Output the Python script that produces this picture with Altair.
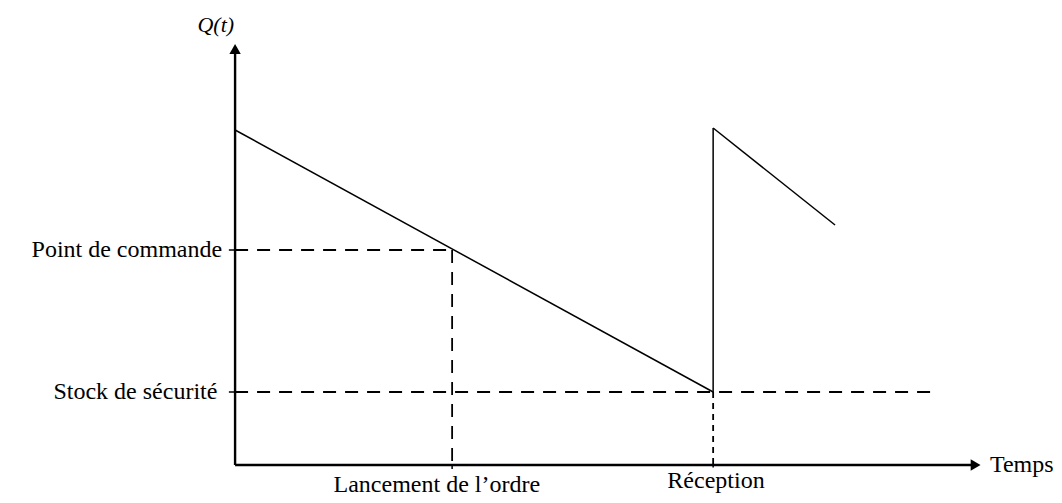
import altair as alt
import pandas as pd

# Time units (t) and stock units (Q)
T_LANCEMENT = 4.54
T_RECEPTION = 10.0
T_END = 12.55
T_SS_END = 14.64
T_AXIS_END = 15.69

Q_SS = 7.3
Q_PC = 21.5
Q_START = 33.5
Q_PEAK = 33.7
Q_END = 24.0
Q_AXIS_END = 42.6

XDOM = [-4.75, 17.13]
YDOM = [-3.0, 45.7]
FONT = "Liberation Serif"
FS = 24

x_sc = alt.Scale(domain=XDOM, nice=False, zero=False)
y_sc = alt.Scale(domain=YDOM, nice=False, zero=False)

def seg_df(rows):
    return pd.DataFrame(rows, columns=["x", "y", "x2", "y2"])

axes = seg_df([
    [0, 0, T_AXIS_END - 0.2, 0],
    [0, 0, 0, Q_AXIS_END - 1.0],
])
stock = seg_df([
    [0, Q_START, T_RECEPTION, Q_SS],
    [T_RECEPTION, Q_SS, T_RECEPTION, Q_PEAK],
    [T_RECEPTION, Q_PEAK, T_END, Q_END],
])
dashed = seg_df([
    [0, Q_PC, T_LANCEMENT, Q_PC],
    [T_LANCEMENT, Q_PC, T_LANCEMENT, 0],
    [0, Q_SS, T_SS_END, Q_SS],
])
dotted = seg_df([
    [T_RECEPTION, Q_SS, T_RECEPTION, 0],
])
ticks = seg_df([
    [-0.13, Q_PC, 0, Q_PC],
    [-0.13, Q_SS, 0, Q_SS],
    [T_LANCEMENT, 0, T_LANCEMENT, -0.4],
    [T_RECEPTION, 0, T_RECEPTION, -0.25],
])

def rules(df, width, dash=None):
    kw = dict(color="black", strokeWidth=width)
    if dash:
        kw["strokeDash"] = dash
    return alt.Chart(df).mark_rule(**kw).encode(
        x=alt.X("x:Q", scale=x_sc, axis=None),
        y=alt.Y("y:Q", scale=y_sc, axis=None),
        x2="x2:Q",
        y2="y2:Q",
    )

arrows = pd.DataFrame({
    "x": [T_AXIS_END - 0.2, 0],
    "y": [0, Q_AXIS_END - 1.0],
    "shape": ["triangle-right", "triangle-up"],
})
arrow_layer = alt.Chart(arrows).mark_point(
    filled=True, color="black", opacity=1, size=130
).encode(
    x=alt.X("x:Q", scale=x_sc, axis=None),
    y=alt.Y("y:Q", scale=y_sc, axis=None),
    shape=alt.Shape("shape:N", scale=None, legend=None),
)

right_labels = pd.DataFrame({
    "x": [-0.27, -0.37],
    "y": [Q_PC, Q_SS],
    "label": ["Point de commande", "Stock  de sécurité"],
})
bottom_labels = pd.DataFrame({
    "x": [T_LANCEMENT - 0.32, T_RECEPTION + 0.06],
    "y": [-2.65, -2.3],
    "label": ["Lancement de l’ordre", "Réception"],
})

def texts(df, align, baseline="middle", italic=False, size=FS):
    kw = dict(font=FONT, fontSize=size, color="black", align=align, baseline=baseline)
    if italic:
        kw["fontStyle"] = "italic"
    return alt.Chart(df).mark_text(**kw).encode(
        x=alt.X("x:Q", scale=x_sc, axis=None),
        y=alt.Y("y:Q", scale=y_sc, axis=None),
        text="label:N",
    )

qt = pd.DataFrame({"x": [-0.02], "y": [44.0], "label": ["Q(t)"]})
temps = pd.DataFrame({"x": [T_AXIS_END + 0.1], "y": [0.0], "label": ["Temps"]})

chart = alt.layer(
    rules(dashed, 1.8, [13, 9]),
    rules(dotted, 1.8, [6, 5]),
    rules(stock, 1.5),
    rules(axes, 2.4),
    rules(ticks, 1.5),
    arrow_layer,
    texts(right_labels, "right"),
    texts(bottom_labels, "center", baseline="alphabetic"),
    texts(qt, "right", italic=True, size=22),
    texts(temps, "left"),
).properties(
    width=1046, height=487,
    autosize=alt.AutoSizeParams(type="none"),
    padding=0,
).configure_view(stroke=None)

chart.save("out.html", embed_options={"renderer": "svg", "actions": False})
